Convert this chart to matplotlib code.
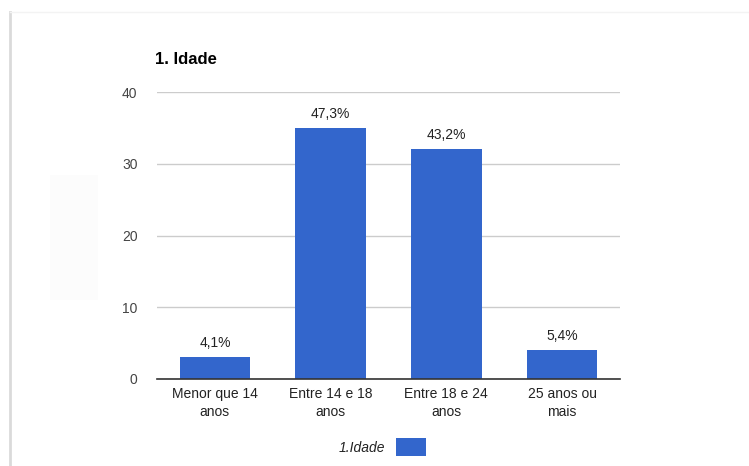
import matplotlib.pyplot as plt
from matplotlib.patches import Rectangle
from matplotlib.lines import Line2D

# data: respostas por faixa etaria
faixas = ['Menor que 14\nanos', 'Entre 14 e 18\nanos', 'Entre 18 e 24\nanos', '25 anos ou\nmais']
contagem = [3, 35, 32, 4]
rotulos = ['4,1%', '47,3%', '43,2%', '5,4%']
yticks = [0, 10, 20, 30, 40]

plt.rcParams['font.family'] = ['Liberation Sans', 'DejaVu Sans']

fig = plt.figure(figsize=(7.49, 4.66), dpi=100)
fig.patch.set_facecolor('white')

# card border on the left / top
fig.add_artist(Line2D([10/749, 10/749], [0, 1 - 12/466], color='#dadada', lw=2.0))
fig.add_artist(Line2D([10/749, 1], [1 - 12/466, 1 - 12/466], color='#f3f3f3', lw=1.0))
fig.add_artist(Rectangle((50/749, 1 - 300/466), 48/749, 125/466, color='#fcfcfc', lw=0))

ax = fig.add_axes([157/749, 1 - 379/466, 463/749, 287/466])
x = range(len(faixas))
bars = ax.bar(x, contagem, width=0.61, color='#3366cc', zorder=3)

for b, txt in zip(bars, rotulos):
    ax.text(b.get_x() + b.get_width() / 2, b.get_height() + 1.0, txt,
            ha='center', va='bottom', fontsize=10, color='#222222')

ax.set_xlim(-0.5, 3.5)
ax.set_ylim(0, 40)
ax.set_yticks(yticks)
ax.set_yticklabels([str(v) for v in yticks], fontsize=10, color='#444444')
ax.set_xticks(list(x))
ax.set_xticklabels(faixas, fontsize=10, color='#222222', linespacing=1.3)
ax.tick_params(length=0)
ax.tick_params(axis='y', pad=14)
ax.tick_params(axis='x', pad=6)
ax.grid(axis='y', color='#cccccc', lw=1, zorder=0)
for s in ['top', 'right', 'left']:
    ax.spines[s].set_visible(False)
ax.spines['bottom'].set_color('#333333')
ax.spines['bottom'].set_linewidth(1.2)
ax.spines['bottom'].set_zorder(4)

fig.text(155/749, 1 - 60/466, '1. Idade', fontsize=12, fontweight='bold',
         color='#000000', va='center', ha='left')

# legend
fig.text(385/749, 1 - 448/466, '1.Idade', fontsize=10, style='italic',
         color='#222222', ha='right', va='center')
fig.add_artist(Rectangle((396/749, 1 - 456/466), 30/749, 18/466, color='#3366cc', lw=0))

fig.savefig('out.png', dpi=100, facecolor='white')
